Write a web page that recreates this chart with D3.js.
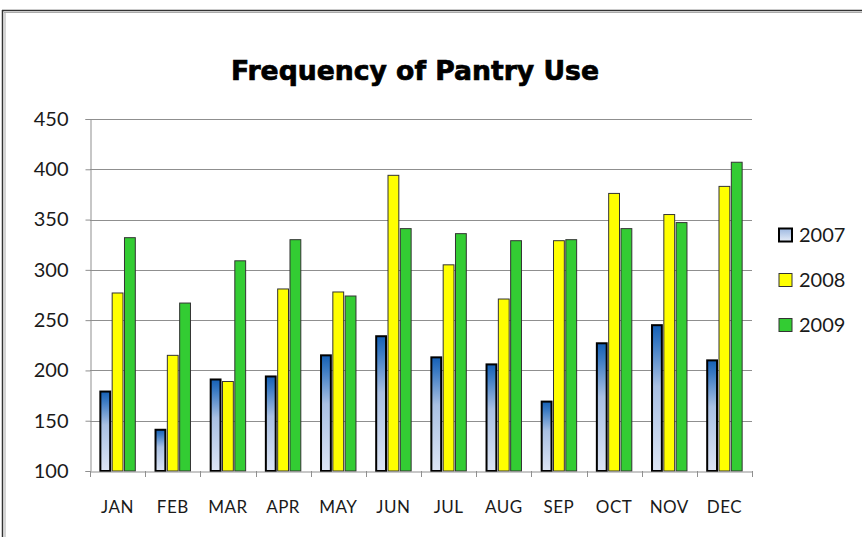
<!DOCTYPE html>
<html>
<head>
<meta charset="utf-8">
<script src="https://cdn.jsdelivr.net/npm/d3@7/dist/d3.min.js"></script>
<style>
  html, body { margin: 0; padding: 0; background: #fff; }
  svg { display: block; }
</style>
</head>
<body>
<script>
const months = ["JAN","FEB","MAR","APR","MAY","JUN","JUL","AUG","SEP","OCT","NOV","DEC"];
const seriesNames = ["2007","2008","2009"];
const values2007 = [179,141,191,194,215,234,213,206,169,227,245,210];
const values2008 = [277,215,189,281,278,394,305,271,329,376,355,383];
const values2009 = [332,267,309,330,274,341,336,329,330,341,347,407];
const yTicks = [100,150,200,250,300,350,400,450];
const title = "Frequency of Pantry Use";

(function () {
const W = 862, H = 537;
const svg = d3.select("body").append("svg").attr("width", W).attr("height", H);

const defs = svg.append("defs");
const g1 = defs.append("linearGradient").attr("id","grad2007")
  .attr("x1","0").attr("y1","0").attr("x2","0").attr("y2","1");
[[0,"#1560b5"],[0.12,"#3a7ac3"],[0.42,"#a9c0e3"],[1,"#dde5f5"]].forEach(([o,c]) =>
  g1.append("stop").attr("offset", o).attr("stop-color", c));
const g2 = defs.append("linearGradient").attr("id","gradLeg2007")
  .attr("x1","0").attr("y1","0").attr("x2","0").attr("y2","1");
[[0,"#9db8e0"],[1,"#e6edf8"]].forEach(([o,c]) =>
  g2.append("stop").attr("offset", o).attr("stop-color", c));

const fills = {"2007":"url(#grad2007)","2008":"#ffff00","2009":"#33cc33"};
const strokes = {"2007":"#000","2008":"#333","2009":"#333"};
const strokeW = {"2007":2,"2008":1,"2009":1};
const dataBySeries = {"2007":values2007,"2008":values2008,"2009":values2009};

// frame
svg.append("line").attr("x1",2).attr("x2",W).attr("y1",10.5).attr("y2",10.5).attr("stroke","#333").attr("stroke-width",1.5);
svg.append("line").attr("x1",4).attr("x2",W).attr("y1",12.5).attr("y2",12.5).attr("stroke","#aaa").attr("stroke-width",1);
svg.append("line").attr("x1",2.5).attr("x2",2.5).attr("y1",10).attr("y2",H).attr("stroke","#333").attr("stroke-width",1.5);
svg.append("line").attr("x1",5).attr("x2",5).attr("y1",12).attr("y2",H).attr("stroke","#aaa").attr("stroke-width",1);

const pl = 90, pr = 752, pt = 119, pb = 471;
const y = d3.scaleLinear().domain([100,450]).range([pb, pt]);
const x0 = d3.scaleBand().domain(months).range([pl, pr]).padding(0);
const x1 = d3.scaleBand().domain(seriesNames).range([0, x0.bandwidth()]).paddingInner(0.04).paddingOuter(0.76);

// gridlines
svg.append("g").selectAll("line").data(yTicks.filter(t => t > 100)).join("line")
  .attr("x1", pl).attr("x2", pr)
  .attr("y1", d => Math.round(y(d)) + 0.5).attr("y2", d => Math.round(y(d)) + 0.5)
  .attr("stroke", "#8f8f8f").attr("stroke-width", 1);

// y axis
const yAxis = svg.append("g").attr("transform", `translate(${pl + 0.5},0)`)
  .call(d3.axisLeft(y).tickValues(yTicks).tickSize(5).tickPadding(17));
yAxis.select(".domain").attr("stroke", "#8f8f8f");
yAxis.selectAll(".tick line").attr("stroke", "#8f8f8f");
yAxis.selectAll(".tick text").attr("font-family", "Lato, 'Open Sans', sans-serif")
  .attr("font-size", "20px").attr("fill", "#1a1a1a");

// bars
const groups = svg.append("g").selectAll("g").data(months).join("g")
  .attr("transform", d => `translate(${x0(d)},0)`);
groups.selectAll("rect").data((m, i) => seriesNames.map(s => ({s, v: dataBySeries[s][i]}))).join("rect")
  .attr("x", d => x1(d.s) + strokeW[d.s] / 2)
  .attr("width", d => x1.bandwidth() - strokeW[d.s])
  .attr("y", d => y(d.v))
  .attr("height", d => y(100) - y(d.v))
  .attr("fill", d => fills[d.s])
  .attr("stroke", d => strokes[d.s])
  .attr("stroke-width", d => strokeW[d.s]);

// x axis
const xAxis = svg.append("g").attr("transform", `translate(0,${Math.round(pb) + 0.5})`)
  .call(d3.axisBottom(x0).tickSize(0).tickPadding(29));
xAxis.select(".domain").attr("stroke", "#8f8f8f");
xAxis.selectAll(".tick text").attr("font-family", "Lato, 'Open Sans', sans-serif")
  .attr("font-size", "17px").attr("fill", "#1a1a1a").attr("letter-spacing", "0.5px");
// category boundary ticks
svg.append("g").selectAll("line").data(months.concat(["END"])).join("line")
  .attr("x1", (d, i) => Math.round(pl + i * x0.step()) + 0.5)
  .attr("x2", (d, i) => Math.round(pl + i * x0.step()) + 0.5)
  .attr("y1", pb).attr("y2", pb + 6)
  .attr("stroke", "#8f8f8f");

// title
svg.append("text").attr("x", 415).attr("y", 80).attr("text-anchor", "middle")
  .attr("font-family", "'DejaVu Sans', sans-serif").attr("font-weight", "bold")
  .attr("font-size", "26px").attr("fill", "#000")
  .attr("stroke", "#000").attr("stroke-width", 0.7)
  .attr("textLength", 368).attr("lengthAdjust", "spacingAndGlyphs")
  .text(title);

// legend
const legend = svg.append("g").selectAll("g").data(seriesNames).join("g")
  .attr("transform", (d, i) => `translate(779, ${235 + i * 45})`);
legend.append("rect").attr("x", 0).attr("y", -6.5).attr("width", 13).attr("height", 13)
  .attr("fill", d => d === "2007" ? "url(#gradLeg2007)" : fills[d])
  .attr("stroke", d => strokes[d]).attr("stroke-width", d => strokeW[d]);
legend.append("text").attr("x", 20).attr("y", 7)
  .attr("font-family", "Lato, 'Open Sans', sans-serif").attr("font-size", "20px")
  .attr("fill", "#1a1a1a").text(d => d);
})();
</script>
</body>
</html>
